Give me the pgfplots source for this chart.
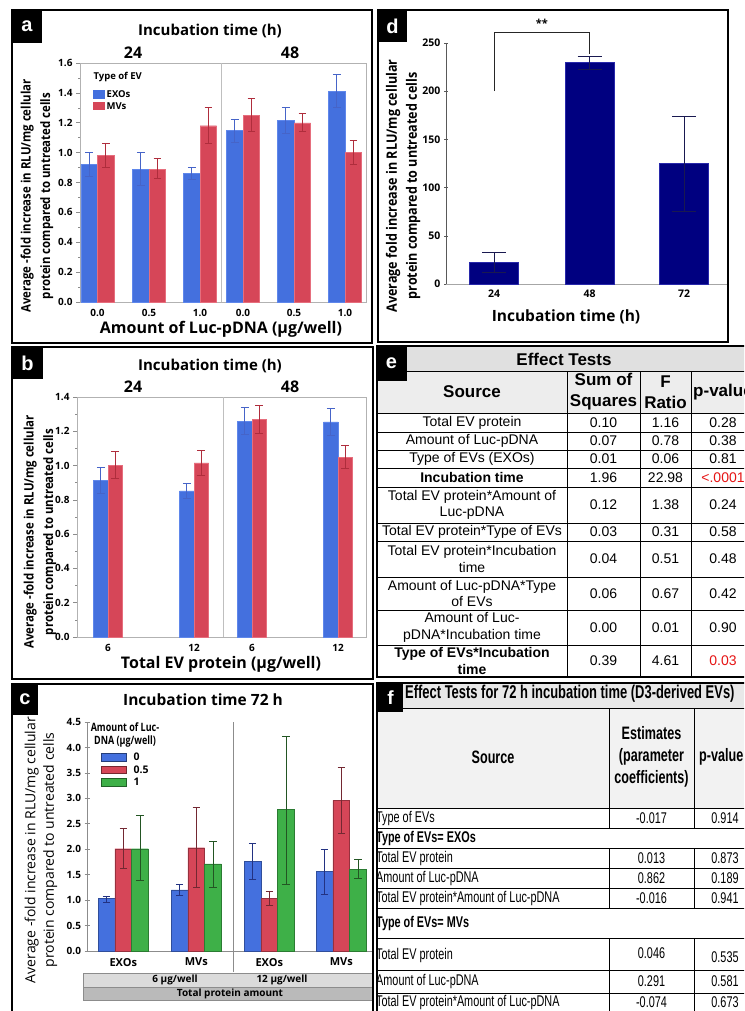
\documentclass[border=0pt]{standalone}
\usepackage{pgfplots}
\pgfplotsset{compat=1.18}
\usepackage{pgfplotstable}
\usepackage{fontspec}
\setmainfont{Open Sans}
\newfontfamily\osc[FakeStretch=0.78]{Open Sans}
\newfontfamily\oscx[FakeStretch=0.88]{Open Sans}
\newfontfamily\arial{Liberation Sans}
\newfontfamily\narrow[FakeStretch=0.7]{Liberation Sans}

\definecolor{exo}{RGB}{68,112,222}
\definecolor{exoedge}{RGB}{95,135,235}
\definecolor{exoerr}{RGB}{70,100,200}
\definecolor{mv}{RGB}{214,70,88}
\definecolor{mvedge}{RGB}{230,110,125}
\definecolor{mverr}{RGB}{175,45,60}
\definecolor{grn}{RGB}{62,176,72}
\definecolor{navybar}{RGB}{0,0,128}
\definecolor{navyedge}{RGB}{40,40,170}
\definecolor{navyerr}{RGB}{25,25,80}
\definecolor{cblueerr}{RGB}{35,50,130}
\definecolor{crederr}{RGB}{115,40,50}
\definecolor{cgrnerr}{RGB}{35,85,35}
\definecolor{pred}{RGB}{230,20,20}

\newcommand\fs[2]{\fontsize{#1}{#2}\selectfont}

% ---------- data: x = bar position (pt from left edge), y = mean, lo/hi = error limits
\pgfplotstableread{
x     y     lo    hi
89.2  0.92  0.84  1.00
140.7 0.89  0.78  1.00
191.7 0.86  0.82  0.90
234.7 1.15  1.07  1.22
285.7 1.215 1.13  1.30
336.7 1.41  1.30  1.52
}\aExo
\pgfplotstableread{
x     y     lo    hi
105.8 0.98  0.90  1.06
157.3 0.89  0.83  0.96
208.3 1.18  1.06  1.30
251.3 1.25  1.14  1.36
302.3 1.20  1.14  1.26
353.3 1.00  0.92  1.08
}\aMv
\pgfplotstableread{
x      y     lo    hi
100.75 0.914 0.837 0.99
186.75 0.852 0.807 0.895
244.75 1.259 1.18  1.337
330.75 1.255 1.175 1.333
}\bExo
\pgfplotstableread{
x      y     lo    hi
115.25 1.00  0.924 1.08
201.25 1.016 0.94  1.09
259.25 1.268 1.187 1.348
345.25 1.05  0.986 1.117
}\bMv
\pgfplotstableread{
x     y     lo    hi
106.6 1.03  0.955 1.08
179.6 1.20  1.09  1.31
252.6 1.76  1.41  2.12
324.6 1.56  1.12  1.99
}\cZero
\pgfplotstableread{
x     y     lo    hi
123.3 2.01  1.62  2.41
196.3 2.03  1.24  2.82
269.3 1.03  0.90  1.18
341.3 2.96  2.32  3.60
}\cHalf
\pgfplotstableread{
x     y     lo    hi
140.0 2.01  1.39  2.67
213.0 1.71  1.25  2.16
286.0 2.78  1.31  4.22
358.0 1.61  1.43  1.80
}\cOne
\pgfplotstableread{
x     y     lo    hi
494   22.5  12    33
589.5 230   223   236
684   124.7 75    174
}\dTime

\pgfplotsset{
  jmpaxis/.style={
    scale only axis, clip=false,
    /pgf/number format/assume math mode=true,
    axis line style={black!30, line width=0.6pt},
    tick style={black!45, line width=0.6pt},
    tick align=outside, major tick length=4pt, minor tick length=2pt,
    xtick pos=bottom, ytick pos=left,
    xtick style={draw=none},
    ticklabel style={font=\fs{10}{10}\bfseries},
    yticklabel style={/pgf/number format/.cd, fixed, fixed zerofill, precision=1, /tikz/.cd},
  },
  errs/.style 2 args={
    error bars/y dir=both, error bars/y explicit,
    error bars/error bar style={#1, line width=0.9pt},
    error bars/error mark options={rotate=90, #1, mark size=#2, line width=0.9pt},
  },
}

\begin{document}
\begin{tikzpicture}[x=1pt, y=1pt]
\path[use as bounding box] (0,0) rectangle (744,-1011);
\clip (0,0) rectangle (744,-1011);
\fill[white] (0,0) rectangle (744,-1011);

% ================= panel a =================
\begin{axis}[jmpaxis, at={(80pt,-302pt)}, anchor=south west,
  width=286pt, height=239pt, xmin=80, xmax=366, ymin=0, ymax=1.6,
  ytick={0,0.2,0.4,0.6,0.8,1.0,1.2,1.4,1.6}, minor y tick num=1,
  xtick={97.5,149,200,243,294,345}, xticklabels={0.0,0.5,1.0,0.0,0.5,1.0}]
\draw[black!25, line width=0.6pt] (axis cs:221,0) -- (axis cs:221,1.6);
\addplot[ybar, bar width=16.6pt, bar shift=0pt, fill=exo, draw=exoedge, line width=0.4pt, errs={exoerr}{3.8pt}]
  table[x=x, y=y, y error plus expr={\thisrow{hi}-\thisrow{y}}, y error minus expr={\thisrow{y}-\thisrow{lo}}] {\aExo};
\addplot[ybar, bar width=16.6pt, bar shift=0pt, fill=mv, draw=mvedge, line width=0.4pt, errs={mverr}{3.8pt}]
  table[x=x, y=y, y error plus expr={\thisrow{hi}-\thisrow{y}}, y error minus expr={\thisrow{y}-\thisrow{lo}}] {\aMv};
\end{axis}
\node[font=\fs{15}{15}\bfseries] at (210,-31) {Incubation time (h)};
\node[font=\fs{16}{16}\bfseries] at (133,-53) {24};
\node[font=\fs{16}{16}\bfseries] at (290,-53) {48};
\node[rotate=90, align=center, font=\oscx\bfseries\fs{13}{19.5}] at (37,-196) {Average -fold increase in RLU/mg cellular\\protein compared to untreated cells};
\node[font=\fs{16}{16}\bfseries] at (221,-329) {Amount of Luc-pDNA (µg/well)};
\node[anchor=west, font=\fs{9.5}{9.5}\bfseries] at (90,-77) {Type of EV};
\fill[exo] (93,-90) rectangle (105,-99);
\fill[mv] (93,-102) rectangle (105,-110.5);
\node[anchor=west, inner sep=1pt, font=\fs{9.5}{9.5}\bfseries] at (105.5,-94.5) {EXOs};
\node[anchor=west, inner sep=1pt, font=\fs{9.5}{9.5}\bfseries] at (105.5,-106.5) {MVs};
\draw[line width=1.6pt] (12,-10) rectangle (372,-343);
\fill (12,-10) rectangle (42,-43);
\node[white, font=\arial\bfseries\fs{20}{20}] at (27,-26) {a};

% ================= panel b =================
\begin{axis}[jmpaxis, at={(77pt,-637pt)}, anchor=south west,
  width=289pt, height=240pt, xmin=77, xmax=366, ymin=0, ymax=1.4,
  ytick={0,0.2,0.4,0.6,0.8,1.0,1.2,1.4}, minor y tick num=1,
  xtick={108,194,252,338}, xticklabels={6,12,6,12}]
\draw[black!25, line width=0.6pt] (axis cs:223,0) -- (axis cs:223,1.4);
\addplot[ybar, bar width=14.5pt, bar shift=0pt, fill=exo, draw=exoedge, line width=0.4pt, errs={exoerr}{3.8pt}]
  table[x=x, y=y, y error plus expr={\thisrow{hi}-\thisrow{y}}, y error minus expr={\thisrow{y}-\thisrow{lo}}] {\bExo};
\addplot[ybar, bar width=14.5pt, bar shift=0pt, fill=mv, draw=mvedge, line width=0.4pt, errs={mverr}{3.8pt}]
  table[x=x, y=y, y error plus expr={\thisrow{hi}-\thisrow{y}}, y error minus expr={\thisrow{y}-\thisrow{lo}}] {\bMv};
\end{axis}
\node[font=\fs{15}{15}\bfseries] at (210,-366) {Incubation time (h)};
\node[font=\fs{16}{16}\bfseries] at (133,-387) {24};
\node[font=\fs{16}{16}\bfseries] at (290,-387) {48};
\node[rotate=90, align=center, font=\oscx\bfseries\fs{13}{19.5}] at (40,-532) {Average -fold increase in RLU/mg cellular\\protein compared to untreated cells};
\node[font=\fs{16}{16}\bfseries] at (221,-664) {Total EV protein (µg/well)};
\draw[line width=1.6pt] (12,-347) rectangle (373,-679);
\fill (12,-347) rectangle (43,-379);
\node[white, font=\arial\bfseries\fs{20}{20}] at (27.5,-363) {b};

% ================= panel c =================
\begin{axis}[jmpaxis, at={(87pt,-951pt)}, anchor=south west,
  width=285pt, height=229pt, xmin=87, xmax=372, ymin=0, ymax=4.5,
  axis lines=left, axis line style={-, black!45, line width=0.6pt},
  major tick length=5pt,
  ytick={0,0.5,1.0,1.5,2.0,2.5,3.0,3.5,4.0,4.5},
  ticklabel style={font=\fs{10}{10}\bfseries},
  xtick={123.3,196.3,269.3,341.3}, xticklabels={EXOs,MVs,EXOs,MVs},
  xticklabel style={font=\fs{11}{11}\bfseries, yshift=-1pt}]
\draw[black!45, line width=0.6pt] (axis cs:233,4.5) -- (axis cs:233,-0.42);
\addplot[ybar, bar width=16.7pt, bar shift=0pt, fill=exo, draw=exo!70!black, line width=0.4pt, errs={cblueerr}{3.8pt}]
  table[x=x, y=y, y error plus expr={\thisrow{hi}-\thisrow{y}}, y error minus expr={\thisrow{y}-\thisrow{lo}}] {\cZero};
\addplot[ybar, bar width=16.7pt, bar shift=0pt, fill=mv, draw=mv!70!black, line width=0.4pt, errs={crederr}{3.8pt}]
  table[x=x, y=y, y error plus expr={\thisrow{hi}-\thisrow{y}}, y error minus expr={\thisrow{y}-\thisrow{lo}}] {\cHalf};
\addplot[ybar, bar width=16.7pt, bar shift=0pt, fill=grn, draw=grn!70!black, line width=0.4pt, errs={cgrnerr}{3.8pt}]
  table[x=x, y=y, y error plus expr={\thisrow{hi}-\thisrow{y}}, y error minus expr={\thisrow{y}-\thisrow{lo}}] {\cOne};
\end{axis}
\node[font=\fs{15.5}{15.5}\bfseries] at (203,-700) {Incubation time 72 h};
\node[rotate=90, align=center, font=\fs{14}{18.5}] at (41,-850) {Average -fold increase in RLU/mg cellular\\protein compared to untreated cells};
\node[align=center, font=\osc\bfseries\fs{11.5}{12.5}] at (125,-735) {Amount of Luc-\\DNA (µg/well)};
\filldraw[fill=exo, draw=exo!55!black, line width=0.5pt] (101,-753) rectangle (126,-761);
\filldraw[fill=mv, draw=mv!55!black, line width=0.5pt] (101,-766) rectangle (126,-773.5);
\filldraw[fill=grn, draw=grn!55!black, line width=0.5pt] (101,-778) rectangle (126,-786);
\node[anchor=west, font=\fs{10.5}{10.5}\bfseries] at (130,-757) {0};
\node[anchor=west, font=\fs{10.5}{10.5}\bfseries] at (130,-769.5) {0.5};
\node[anchor=west, font=\fs{10.5}{10.5}\bfseries] at (130,-782) {1};
\fill[black!14] (83,-973) rectangle (374,-987);
\fill[black!27] (83,-987) rectangle (374,-1000);
\draw[black!45, line width=0.5pt] (83,-973) -- (374,-973) (83,-987) -- (374,-987) (83,-1000) -- (374,-1000) (83,-973) -- (83,-1000);
\node[font=\fs{10}{10}\bfseries] at (175,-980) {6 µg/well};
\node[font=\fs{10}{10}\bfseries] at (282,-980) {12 µg/well};
\node[font=\fs{10}{10}\bfseries] at (230,-993.5) {Total protein amount};
\draw[line width=1.6pt] (12,-684) rectangle (373,-1014);
\fill (12,-684) rectangle (38,-715);
\node[white, font=\arial\bfseries\fs{20}{20}] at (25,-699.5) {c};

% ================= panel d =================
\begin{axis}[jmpaxis, at={(446pt,-284pt)}, anchor=south west,
  width=281pt, height=241pt, xmin=446, xmax=727, ymin=0, ymax=250,
  axis lines=left, axis line style={-},
  x axis line style={black!35, line width=0.7pt},
  y axis line style={black!65, line width=0.7pt},
  ytick={0,50,100,150,200,250}, ytick style={black!65},
  yticklabel style={/pgf/number format/.cd, fixed, precision=0, /tikz/.cd},
  ticklabel style={font=\fs{10.5}{10.5}\bfseries},
  xtick={494,589.5,684}, xticklabels={24,48,72}]
\addplot[ybar, bar width=49pt, bar shift=0pt, fill=navybar, draw=navyedge, line width=0.6pt, errs={navyerr}{12pt}]
  table[x=x, y=y, y error plus expr={\thisrow{hi}-\thisrow{y}}, y error minus expr={\thisrow{y}-\thisrow{lo}}] {\dTime};
\draw[black!85, line width=0.8pt] (axis cs:494,200) -- (axis cs:494,261) -- (axis cs:589.5,261) -- (axis cs:589.5,239);
\node[font=\fs{11}{11}\bfseries] at (axis cs:541.75,270) {**};
\end{axis}
\node[rotate=90, align=center, font=\oscx\bfseries\fs{14.3}{20}] at (403,-186) {Average fold increase in RLU/mg cellular\\protein compared to untreated cells};
\node[font=\fs{15.5}{15.5}\bfseries] at (566,-317) {Incubation time (h)};
\draw[line width=1.6pt] (378,-10) rectangle (728,-342);
\fill (378,-10) rectangle (407,-42);
\node[white, font=\arial\bfseries\fs{20}{20}] at (392.5,-26) {d};

% ================= panel e: effect tests table =================
\fill[black!12] (377,-346) rectangle (746,-371);
\fill[black!7] (377,-371) rectangle (746,-413);
\begin{scope}[line width=0.7pt]
\foreach \yy in {371,413,432,450,468,487,523,541,577,610,645}
  \draw (377,-\yy) -- (746,-\yy);
\foreach \xx in {567,640,691}
  \draw (\xx,-371) -- (\xx,-677);
\end{scope}
\draw[line width=1.6pt] (377,-346) rectangle (746,-677);
\fill (376,-346) rectangle (407,-381);
\node[white, font=\arial\bfseries\fs{20}{20}] at (391.5,-363) {e};
\node[font=\arial\bfseries\fs{17}{17}] at (564,-359) {Effect Tests};
\begin{scope}[font=\arial\bfseries\fs{17}{21}]
\node at (472,-392) {Source};
\node[align=center] at (603.5,-392) {Sum of\\Squares};
\node[align=center] at (665.5,-392) {F\\Ratio};
\node[anchor=west, inner sep=0pt] at (693,-392) {p-value};
\end{scope}
\begin{scope}[font=\arial\fs{14}{16.5}]
\node at (472,-422.5) {Total EV protein};
\node at (472,-441) {Amount of Luc-pDNA};
\node at (472,-459) {Type of EVs (EXOs)};
\node[font=\arial\bfseries\fs{14}{16.5}] at (472,-477.5) {Incubation time};
\node[align=center] at (472,-505) {Total EV protein*Amount of\\Luc-pDNA};
\node at (472,-532) {Total EV protein*Type of EVs};
\node[align=center] at (472,-559) {Total EV protein*Incubation\\time};
\node[align=center] at (472,-593.5) {Amount of Luc-pDNA*Type\\of EVs};
\node[align=center] at (472,-627.5) {Amount of Luc-\\pDNA*Incubation time};
\node[align=center, font=\arial\bfseries\fs{14}{16.5}] at (472,-661) {Type of EVs*Incubation\\time};
\foreach \yy/\ss/\ff/\pp in {422.5/0.10/1.16/0.28, 441/0.07/0.78/0.38, 459/0.01/0.06/0.81,
    505/0.12/1.38/0.24, 532/0.03/0.31/0.58, 559/0.04/0.51/0.48, 593.5/0.06/0.67/0.42,
    627.5/0.00/0.01/0.90} {
  \node at (603.5,-\yy) {\ss};
  \node at (665.5,-\yy) {\ff};
  \node at (723,-\yy) {\pp};
}
\node at (603.5,-477.5) {1.96};
\node at (665.5,-477.5) {22.98};
\node[pred] at (723,-477.5) {<.0001};
\node at (603.5,-661) {0.39};
\node at (665.5,-661) {4.61};
\node[pred] at (723,-661) {0.03};
\end{scope}

% ================= panel f: 72 h effect tests =================
\fill[black!9] (377,-683) rectangle (746,-708);
\fill[black!5] (377,-708) rectangle (746,-808);
\begin{scope}[line width=0.7pt]
\foreach \yy in {708,808,828,848,868,888,908,938,970,993}
  \draw (377,-\yy) -- (746,-\yy);
\foreach \xx in {609,694} {
  \draw (\xx,-708) -- (\xx,-828);
  \draw (\xx,-848) -- (\xx,-908);
  \draw (\xx,-938) -- (\xx,-1012);
}
\end{scope}
\draw[line width=1.6pt] (377,-683) rectangle (746,-1014);
\fill (378,-683) rectangle (403,-712);
\node[white, font=\arial\bfseries\fs{19}{19}] at (390.5,-698) {f};
\node[anchor=west, inner sep=0pt, font=\narrow\bfseries\fs{18.5}{18.5}] at (405,-694) {Effect Tests for 72 h incubation time (D3-derived EVs)};
\begin{scope}[font=\narrow\bfseries\fs{18}{22}]
\node at (493,-757) {Source};
\node[align=center] at (651.5,-757) {Estimates\\(parameter\\coefficients)};
\node[anchor=west, inner sep=0pt] at (699,-757) {p-value};
\end{scope}
\begin{scope}[font=\narrow\fs{15.5}{15.5}]
\node[anchor=west, inner sep=0pt] at (376,-818) {Type of EVs};
\node[anchor=west, inner sep=0pt, font=\narrow\bfseries\fs{15.5}{15.5}] at (376,-838) {Type of EVs= EXOs};
\node[anchor=west, inner sep=0pt] at (376,-858) {Total EV protein};
\node[anchor=west, inner sep=0pt] at (376,-878) {Amount of Luc-pDNA};
\node[anchor=west, inner sep=0pt] at (376,-898) {Total EV protein*Amount of Luc-pDNA};
\node[anchor=west, inner sep=0pt, font=\narrow\bfseries\fs{15.5}{15.5}] at (376,-923) {Type of EVs= MVs};
\node[anchor=west, inner sep=0pt] at (376,-955) {Total EV protein};
\node[anchor=west, inner sep=0pt] at (376,-981) {Amount of Luc-pDNA};
\node[anchor=west, inner sep=0pt] at (376,-1002) {Total EV protein*Amount of Luc-pDNA};
\foreach \yy/\ee/\pp in {818/-0.017/0.914, 858/0.013/0.873, 878/0.862/0.189, 898/-0.016/0.941,
    981/0.291/0.581, 1002/-0.074/0.673} {
  \node at (651.5,-\yy) {\ee};
  \node at (725,-\yy) {\pp};
}
\node at (651.5,-953) {0.046};
\node at (725,-957) {0.535};
\end{scope}
\end{tikzpicture}
\end{document}
